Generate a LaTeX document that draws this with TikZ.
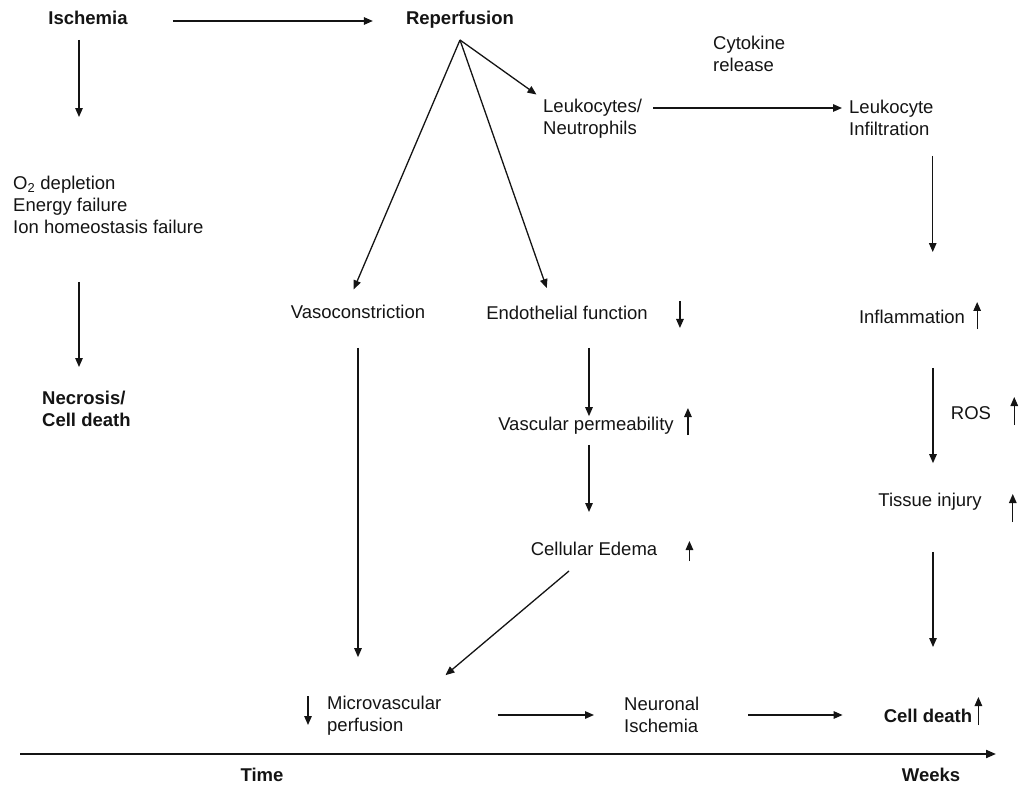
\documentclass[tikz,border=0pt]{standalone}
\usepackage{fontspec}
\setmainfont{Liberation Sans}
\usetikzlibrary{arrows.meta}
\definecolor{ink}{RGB}{20,20,20}
\tikzset{
  lbl/.style={inner sep=0pt, text=ink, font=\fontsize{18.5}{22}\selectfont},
  blbl/.style={lbl, font=\fontsize{18.5}{22}\selectfont\bfseries},
  arr/.style={-{Triangle[length=9pt,width=7.5pt]}, line width=1.3pt, ink},
  timeaxis/.style={-{Triangle[length=10pt,width=8pt]}, line width=2pt, ink}
}
\begin{document}
\begin{tikzpicture}[x=1pt, y=-1pt]
                \useasboundingbox (0,0) rectangle (1020,786);

                % Ischemia branch
                \node[blbl] (isch) at (88,18) {Ischemia};
                \node[lbl, anchor=west, align=left] (depl) at (13,205) {O\textsubscript{2} depletion\\Energy failure\\Ion homeostasis failure};
                \node[blbl, anchor=west, align=left] (necro) at (42,409) {Necrosis/\\Cell death};

                % Reperfusion and its branches
                \node[blbl] (rep) at (460,20) {Reperfusion};
                \coordinate (fan) at ([yshift=-20pt]rep.center);
                \node[lbl] (vaso) at (358,312) {Vasoconstriction};
                \node[lbl] (endo) at (567,313) {Endothelial function};
                \node[lbl] (vasc) at (586,426) {Vascular permeability};
                \node[lbl] (edema) at (594,549) {Cellular Edema};
                \node[lbl, anchor=west, align=left] (leuko) at (543,119) {Leukocytes/\\Neutrophils};
                \node[lbl, anchor=west, align=left] (cyto) at (713,54) {Cytokine\\release};
                \node[lbl, anchor=west, align=left] (infil) at (849,118) {Leukocyte\\Infiltration};
                \node[lbl] (infl) at (912,317) {Inflammation};
                \node[lbl] (ros) at (971,413) {ROS};
                \node[lbl] (tissue) at (930,502) {Tissue injury};

                % Bottom row
                \node[lbl, anchor=west, align=left] (micro) at (327,716) {Microvascular\\perfusion};
                \node[lbl, anchor=west, align=left] (neur) at (624,715) {Neuronal\\Ischemia};
                \node[blbl] (celld) at (928,716) {Cell death};

                % Time axis
                \coordinate (t0) at (20,754);
                \coordinate (t1) at (996,754);
                \draw[timeaxis] (t0) -- (t1);
                \node[blbl] (time) at (262,775) {Time};
                \node[blbl] (weeks) at (931,775) {Weeks};

                % Arrows
                \draw[arr, shorten <=45pt, shorten >=33pt] ([yshift=-3pt]isch.east) -- ([yshift=-3pt]isch.east -| rep.west);
                \draw[arr, shorten <=15pt, shorten >=59pt] ([xshift=-9pt]isch.south) -- ([xshift=-9pt]isch.south |- depl.north);
                \draw[arr, shorten <=48pt, shorten >=24pt] ([xshift=-9pt]isch.south |- depl.south) -- ([xshift=-9pt]isch.south |- necro.north);
                \draw[arr, shorten >=17pt] (fan) -- ([xshift=-11pt]vaso.north);
                \draw[arr, shorten >=19pt] (fan) -- ([xshift=-14pt]endo.north);
                \draw[arr, shorten >=8pt] (fan) -- (leuko.north west);
                \draw[arr, shorten <=11pt, shorten >=7pt] ([yshift=11pt]leuko.east) -- ([yshift=11pt]leuko.east -| infil.west);
                \draw[arr, shorten <=20pt, shorten >=58pt] ([xshift=-1pt]infil.south east) -- ([xshift=-1pt]infil.south east |- infl.north);
                \draw[arr, shorten <=44pt, shorten >=30pt] ([xshift=21pt]infl.south) -- ([xshift=21pt]infl.south |- tissue.north);
                \draw[arr, shorten <=41pt, shorten >=62pt] ([xshift=3pt]tissue.south) -- ([xshift=3pt]tissue.south |- celld.north);
                \draw[arr, shorten <=29pt, shorten >=39pt] (vaso.south) -- (vaso.south |- micro.north);
                \draw[arr, shorten <=28pt, shorten >=1pt] ([xshift=22pt]endo.south) -- ([xshift=22pt]endo.south |- vasc.north);
                \draw[arr, shorten <=10pt, shorten >=30pt] ([xshift=3pt]vasc.south) -- ([xshift=3pt]vasc.south |- edema.north);
                \draw[arr] ([shift={(-25pt,-15pt)}]edema.south) -- ([shift={(4pt,21pt)}]micro.north east);
                \draw[arr, shorten <=56pt, shorten >=30pt] ([yshift=1pt]micro.east) -- ([yshift=1pt]micro.east -| neur.west);
                \draw[arr, shorten <=49pt, shorten >=41pt] (neur.east) -- (neur.east -| celld.west);

                % Up / down marks
                \draw[arr] ([xshift=32pt, yshift=12pt]endo.east) -- ++(0,27);
                \draw[arr] ([xshift=14pt, yshift=-9pt]vasc.east) -- ++(0,-27);
                \draw[arr] ([xshift=32pt, yshift=-12pt]edema.east) -- ++(0,-20);
                \draw[arr] ([xshift=12pt, yshift=-12pt]infl.east) -- ++(0,-27);
                \draw[arr] ([xshift=23pt, yshift=-12pt]ros.east) -- ++(0,-28);
                \draw[arr] ([xshift=31pt, yshift=-20pt]tissue.east) -- ++(0,-28);
                \draw[arr] ([xshift=6pt, yshift=-9pt]celld.east) -- ++(0,-28);
                \draw[arr] ([xshift=-19pt, yshift=20pt]micro.west) -- ++(0,29);
            \end{tikzpicture}
\end{document}
